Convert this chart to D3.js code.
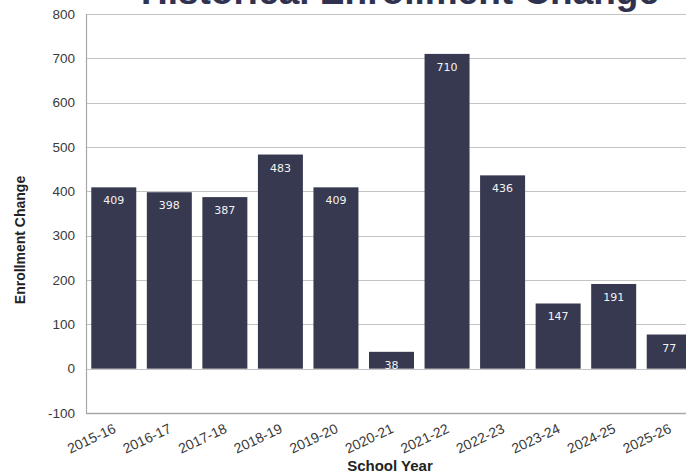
<!DOCTYPE html>
<html>
<head>
<meta charset="utf-8">
<script src="https://cdn.jsdelivr.net/npm/d3@7"></script>
<style>
  html, body { margin: 0; padding: 0; background: #fff; }
  svg { display: block; }
</style>
</head>
<body>
<svg id="chart" width="686" height="475"></svg>
<script>
// School years and year-over-year enrollment change
const years = ["2015-16","2016-17","2017-18","2018-19","2019-20","2020-21","2021-22","2022-23","2023-24","2024-25","2025-26"];
const changes = [409, 398, 387, 483, 409, 38, 710, 436, 147, 191, 77];
const yTicks = [-100, 0, 100, 200, 300, 400, 500, 600, 700, 800];

const svg = d3.select("#chart");
const W = 686, H = 475;
const plot = { left: 86, right: 697, top: 14, bottom: 413 };

const x = d3.scaleBand()
  .domain(years)
  .range([plot.left, plot.right])
  .paddingInner(0.19)
  .paddingOuter(0.095);

const y = d3.scaleLinear()
  .domain([-100, 800])
  .range([plot.bottom, plot.top]);

const barColor = "#373950";
const textFont = "'Liberation Sans', Arial, sans-serif";

// Title (runs off the top edge of the canvas)
svg.append("text")
  .attr("x", 400)
  .attr("y", 4)
  .attr("text-anchor", "middle")
  .attr("font-family", textFont)
  .attr("font-weight", "bold")
  .attr("font-size", 37)
  .attr("fill", "#2f3250")
  .text("Historical Enrollment Change");

// Horizontal gridlines
svg.append("g")
  .selectAll("line")
  .data(yTicks)
  .join("line")
  .attr("x1", plot.left)
  .attr("x2", W)
  .attr("y1", d => Math.round(y(d)) + 0.5)
  .attr("y2", d => Math.round(y(d)) + 0.5)
  .attr("stroke", d => d === -100 ? "#a8a8a8" : "#c4c4c4")
  .attr("stroke-width", d => d === -100 ? 1.5 : 1.2);

// Left axis line
svg.append("line")
  .attr("x1", plot.left + 0.5).attr("x2", plot.left + 0.5)
  .attr("y1", plot.top).attr("y2", plot.bottom)
  .attr("stroke", "#a8a8a8")
  .attr("stroke-width", 1.2);

// Y axis tick labels
const yAxis = d3.axisLeft(y)
  .tickValues(yTicks)
  .tickFormat(d => String(d))
  .tickSize(0)
  .tickPadding(11);
const gy = svg.append("g")
  .attr("transform", `translate(${plot.left},0)`)
  .call(yAxis);
gy.select(".domain").remove();
gy.selectAll("text")
  .attr("font-family", textFont)
  .attr("font-size", 13.5)
  .attr("fill", "#3a3a3a");

// Bars
svg.append("g")
  .selectAll("rect")
  .data(years)
  .join("rect")
  .attr("x", d => x(d))
  .attr("width", x.bandwidth())
  .attr("y", (d, i) => y(Math.max(0, changes[i])))
  .attr("height", (d, i) => Math.abs(y(changes[i]) - y(0)))
  .attr("fill", barColor);

// Value labels inside bars
svg.append("g")
  .selectAll("text")
  .data(years)
  .join("text")
  .attr("x", d => x(d) + x.bandwidth() / 2)
  .attr("y", (d, i) => y(changes[i]) + 17)
  .attr("text-anchor", "middle")
  .attr("font-family", "'DejaVu Sans', sans-serif")
  .attr("font-size", 11)
  .attr("fill", "#f2f2f2")
  .text((d, i) => changes[i]);

// X axis labels, rotated
const xAxis = d3.axisBottom(x).tickSize(0).tickPadding(0);
const gx = svg.append("g")
  .attr("transform", `translate(0,${plot.bottom})`)
  .call(xAxis);
gx.select(".domain").remove();
gx.selectAll("text")
  .attr("font-family", textFont)
  .attr("font-size", 14)
  .attr("fill", "#3a3a3a")
  .attr("text-anchor", "end")
  .attr("dy", 0)
  .attr("transform", "translate(3,19) rotate(-25)");

// Axis titles
svg.append("text")
  .attr("x", 390)
  .attr("y", 471)
  .attr("text-anchor", "middle")
  .attr("font-family", textFont)
  .attr("font-weight", "bold")
  .attr("font-size", 15)
  .attr("fill", "#222")
  .text("School Year");

svg.append("text")
  .attr("transform", "translate(25,240) rotate(-90)")
  .attr("text-anchor", "middle")
  .attr("font-family", textFont)
  .attr("font-weight", "bold")
  .attr("font-size", 14)
  .attr("fill", "#222")
  .text("Enrollment Change");
</script>
</body>
</html>
